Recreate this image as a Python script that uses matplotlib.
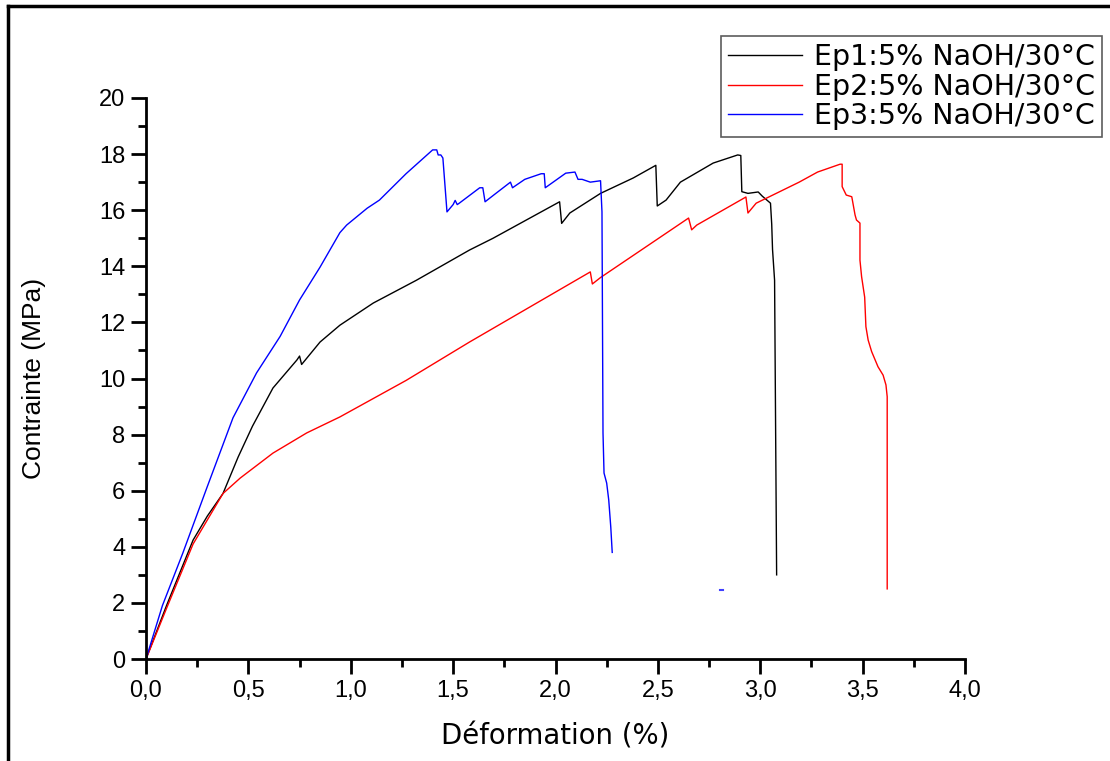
"""
Courbes contrainte-deformation, 5% NaOH / 30 C
"""

import matplotlib.pyplot as plt
from matplotlib.lines import Line2D
from matplotlib.ticker import MultipleLocator, FuncFormatter

plt.rcParams['font.family'] = ['Liberation Sans', 'DejaVu Sans']

# Ep1 (black)
ep1_x = [0.0, 0.10, 0.23, 0.30, 0.376, 0.45, 0.52, 0.62, 0.737, 0.75, 0.76, 0.85, 0.947, 1.11, 1.32,
         1.58, 1.695, 2.02, 2.03, 2.07, 2.22, 2.38, 2.49, 2.497, 2.54, 2.61, 2.77, 2.89,
         2.905, 2.91, 2.94, 2.99, 3.01, 3.05, 3.056, 3.06, 3.07, 3.08]
ep1_y = [0.0, 1.9, 4.24, 5.1, 5.9, 7.2, 8.3, 9.66, 10.66, 10.8, 10.5, 11.3, 11.9, 12.69, 13.5,
         14.58, 15.0, 16.3, 15.53, 15.9, 16.6, 17.15, 17.6, 16.15, 16.36, 17.0, 17.68, 17.97,
         17.95, 16.66, 16.6, 16.65, 16.5, 16.25, 15.5, 14.6, 13.5, 3.0]

# Ep2 (red)
ep2_x = [0.0, 0.10, 0.23, 0.376, 0.46, 0.62, 0.785, 0.947, 1.27, 1.58, 2.17, 2.18,
         2.22, 2.65, 2.665, 2.69, 2.93, 2.94, 2.98, 3.19, 3.28, 3.39, 3.40, 3.40, 3.42,
         3.447, 3.463, 3.47, 3.487, 3.487, 3.495, 3.51, 3.516, 3.527, 3.544, 3.575, 3.60,
         3.614, 3.62, 3.62]
ep2_y = [0.0, 1.8, 4.1, 5.9, 6.45, 7.34, 8.06, 8.63, 9.93, 11.3, 13.8, 13.37,
         13.6, 15.72, 15.3, 15.47, 16.47, 15.9, 16.25, 17.0, 17.36, 17.64, 17.64, 16.84, 16.54,
         16.48, 15.83, 15.65, 15.54, 14.22, 13.63, 12.9, 11.85, 11.37, 10.96, 10.42, 10.12,
         9.77, 9.35, 2.5]

# Ep3 (blue)
ep3_x = [0.0, 0.08, 0.18, 0.297, 0.425, 0.54, 0.655, 0.75, 0.85, 0.947, 0.98, 1.08, 1.14,
         1.27, 1.40, 1.42, 1.427, 1.44, 1.45, 1.47, 1.50, 1.51, 1.52, 1.53, 1.63, 1.645,
         1.656, 1.70, 1.78, 1.79, 1.85, 1.93, 1.945, 1.95, 2.05, 2.095, 2.11, 2.13, 2.17,
         2.22, 2.227, 2.232, 2.237, 2.25, 2.26, 2.27, 2.277]
ep3_y = [0.0, 1.9, 3.78, 6.1, 8.6, 10.2, 11.5, 12.8, 13.97, 15.2, 15.47, 16.07, 16.36,
         17.3, 18.15, 18.15, 17.97, 17.97, 17.86, 15.94, 16.2, 16.35, 16.2, 16.25, 16.8, 16.8,
         16.3, 16.55, 17.0, 16.8, 17.1, 17.3, 17.3, 16.8, 17.32, 17.36, 17.1, 17.1, 17.0,
         17.05, 15.94, 8.06, 6.63, 6.27, 5.67, 4.7, 3.8]

# small stray blue mark near the x axis
ep3_dot_x = [2.805, 2.818]
ep3_dot_y = [2.46, 2.46]

labels = ['Ep1:5% NaOH/30°C', 'Ep2:5% NaOH/30°C', 'Ep3:5% NaOH/30°C']

fig = plt.figure(figsize=(11.1, 7.61), dpi=100)
ax = fig.add_axes([146 / 1110, 1 - 659 / 761, (965 - 146) / 1110, (659 - 98) / 761])

ax.plot(ep1_x, ep1_y, color='black', lw=1.0, label=labels[0])
ax.plot(ep2_x, ep2_y, color='#ff0000', lw=1.0, label=labels[1])
ax.plot(ep3_x, ep3_y, color='#0000ff', lw=1.0, label=labels[2])
ax.plot(ep3_dot_x, ep3_dot_y, color='#4040ff', lw=1.5)

ax.set_xlim(0, 4)
ax.set_ylim(0, 20)
ax.xaxis.set_major_locator(MultipleLocator(0.5))
ax.xaxis.set_minor_locator(MultipleLocator(0.25))
ax.yaxis.set_major_locator(MultipleLocator(2))
ax.yaxis.set_minor_locator(MultipleLocator(1))
ax.xaxis.set_major_formatter(FuncFormatter(lambda v, p: f"{v:.1f}".replace('.', ',')))

for side in ['top', 'right']:
    ax.spines[side].set_visible(False)
for side in ['left', 'bottom']:
    ax.spines[side].set_linewidth(2)

ax.tick_params(which='major', direction='out', length=11, width=2, labelsize=17, pad=4)
ax.tick_params(which='minor', direction='out', length=6, width=2)

ax.set_xlabel('Déformation (%)', fontsize=19.8, family=['DejaVu Sans'], labelpad=15)
ax.set_ylabel('Contrainte (MPa)', fontsize=19, labelpad=38)

leg = fig.legend(loc='upper right', bbox_to_anchor=(1102 / 1110, 1 - 36 / 761),
                 prop={'family': 'DejaVu Sans', 'size': 20.5},
                 frameon=True, fancybox=False, handlelength=2.6,
                 labelspacing=0.05, borderpad=0.25, handletextpad=0.4, borderaxespad=0)
leg.get_frame().set_edgecolor('#333333')
leg.get_frame().set_linewidth(1.2)

# outer frame (top and left only)
fig.add_artist(Line2D([8 / 1110, 1.0], [1 - 6 / 761, 1 - 6 / 761], color='black', lw=2.5,
                      transform=fig.transFigure))
fig.add_artist(Line2D([8 / 1110, 8 / 1110], [0.0, 1 - 6 / 761], color='black', lw=2.5,
                      transform=fig.transFigure))

plt.savefig('out.png', dpi=100)
plt.close()
